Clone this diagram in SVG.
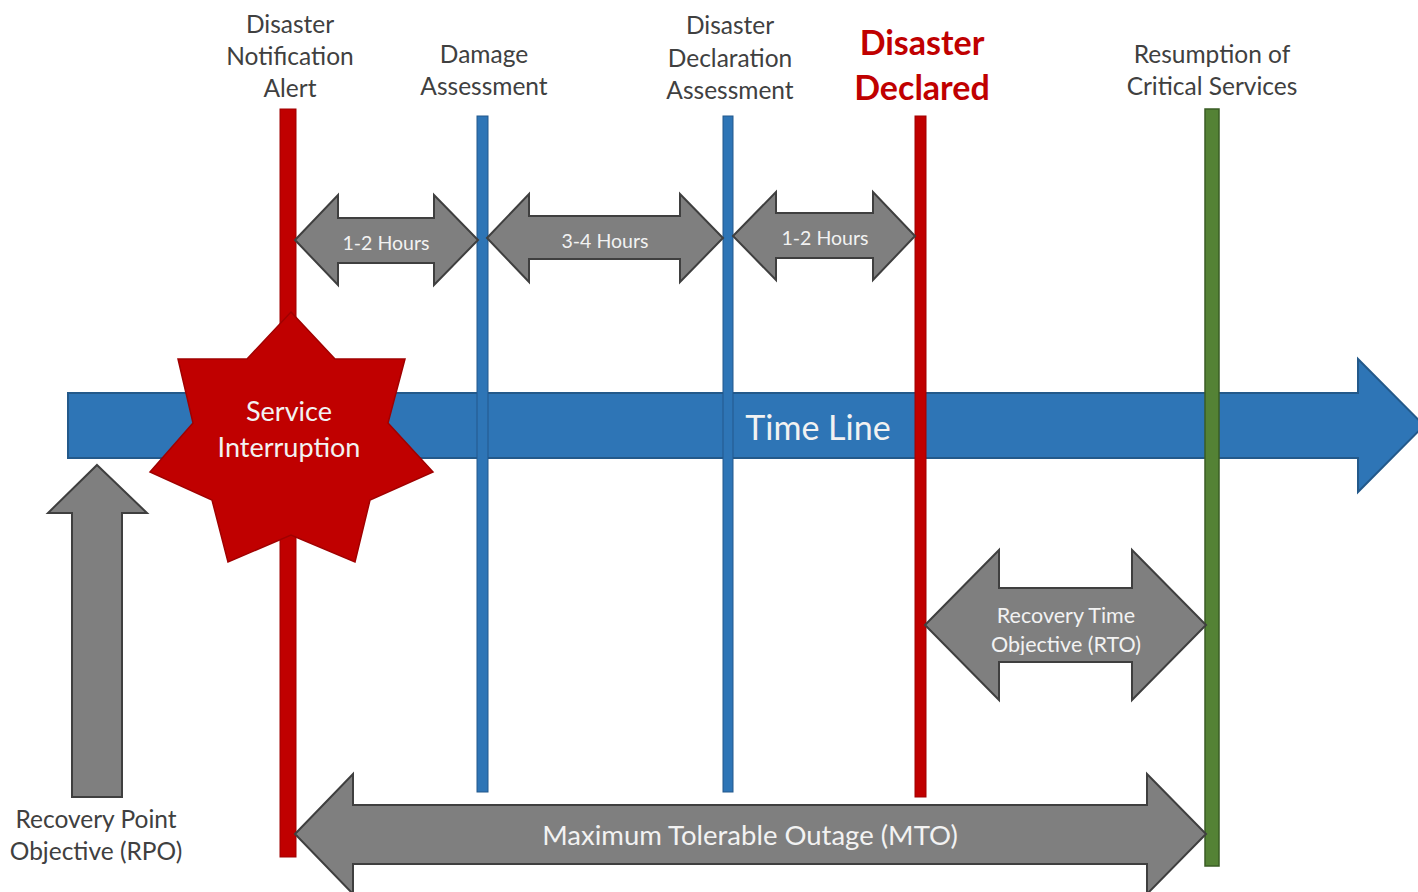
<svg xmlns="http://www.w3.org/2000/svg" width="1418" height="892" viewBox="0 0 1418 892">
  <style>
    .lbl { font-family: Lato, "Liberation Sans", sans-serif; font-size: 24.5px; fill: #404040; text-anchor: middle; }
    .big { font-family: Lato, "Liberation Sans", sans-serif; font-size: 34px; font-weight: bold; fill: #C00000; text-anchor: middle; }
    .in { font-family: Lato, "Liberation Sans", sans-serif; fill: #F2F2F2; text-anchor: middle; }
    .gray { fill: #7F7F7F; stroke: #3F3F3F; stroke-width: 2; stroke-linejoin: miter; }
    .red { fill: #C00000; stroke: #A00000; stroke-width: 1; }
    .blue { fill: #2E75B6; stroke: #22598C; stroke-width: 1; }
    .green { fill: #548235; stroke: #3A5C25; stroke-width: 1.5; }
  </style>
  <defs>
    <clipPath id="rtoClip"><rect x="925" y="540" width="281" height="115"/></clipPath>
  </defs>
  <rect width="1418" height="892" fill="#FFFFFF"/>

  <!-- time line arrow -->
  <g id="timeline">
    <path d="M68,393 H1358 V359 L1424,425.5 L1358,492 V458 H68 Z" fill="#2E75B6" stroke="#23598A" stroke-width="2"/>
    <text class="in" x="818" y="440" font-size="34">Time Line</text>
  </g>

  <!-- milestones -->
  <g id="notification-alert">
    <rect class="red" x="280" y="109" width="16" height="748"/>
    <text class="lbl" x="290" y="33">Disaster</text>
    <text class="lbl" x="290" y="65">Notification</text>
    <text class="lbl" x="290" y="97">Alert</text>
  </g>
  <g id="damage-assessment">
    <rect class="blue" x="477" y="116" width="11" height="676"/>
    <text class="lbl" x="484" y="63">Damage</text>
    <text class="lbl" x="484" y="95">Assessment</text>
  </g>
  <g id="declaration-assessment">
    <rect class="blue" x="723" y="116" width="10" height="676"/>
    <text class="lbl" x="730" y="34">Disaster</text>
    <text class="lbl" x="730" y="67">Declaration</text>
    <text class="lbl" x="730" y="99">Assessment</text>
  </g>
  <g id="disaster-declared">
    <rect class="red" x="915" y="116" width="11" height="681"/>
    <text class="big" x="922" y="55">Disaster</text>
    <text class="big" x="922" y="100">Declared</text>
  </g>
  <g id="resumption">
    <rect class="green" x="1205" y="109" width="14" height="757"/>
    <text class="lbl" x="1212" y="63">Resumption of</text>
    <text class="lbl" x="1212" y="95">Critical Services</text>
  </g>

  <!-- service interruption star -->
  <g id="service-interruption">
    <polygon points="291,312 335,359 405,359 388,423 433,472 370,500 355,562 291,535 228,562 212,500 150,472 193,423 178,359 247,359" fill="#C00000" stroke="#A00000" stroke-width="1.5"/>
    <text class="in" x="289" y="421" font-size="27">Service</text>
    <text class="in" x="289" y="457" font-size="27">Interruption</text>
  </g>

  <!-- recovery point objective -->
  <g id="rpo">
    <path class="gray" d="M97,465 L147,513 H122 V797 H72 V513 H48 Z"/>
    <text class="lbl" x="96" y="828">Recovery Point</text>
    <text class="lbl" x="96" y="860">Objective (RPO)</text>
  </g>

  <!-- interval arrows -->
  <g id="connectors">
    <g id="interval-1">
      <path class="gray" d="M295,240 L338,195 V218 H434 V195 L478,240 L434,285 V263 H338 V285 Z"/>
      <text class="in" x="386" y="250" font-size="19.5">1-2 Hours</text>
    </g>
    <g id="interval-2">
      <path class="gray" d="M487,238 L529,194 V216 H680 V194 L723,238 L680,282 V259 H529 V282 Z"/>
      <text class="in" x="605" y="248" font-size="19.5">3-4 Hours</text>
    </g>
    <g id="interval-3">
      <path class="gray" d="M733,236 L776,192 V213 H873 V192 L915,236 L873,280 V258 H776 V280 Z"/>
      <text class="in" x="825" y="245" font-size="19.5">1-2 Hours</text>
    </g>
    <g id="rto">
      <path class="gray" d="M925,625 L999,550 V588 H1132 V550 L1206,625 L1132,700 V662 H999 V700 Z"/>
      <g clip-path="url(#rtoClip)">
        <text class="in" x="1066" y="623" font-size="21.5">Recovery Time</text>
        <text class="in" x="1066" y="652" font-size="21.5">Objective (RTO)</text>
      </g>
    </g>
    <g id="mto">
      <path class="gray" d="M295,834 L353,774 V805 H1147 V774 L1206,834 L1147,894 V864 H353 V894 Z"/>
      <text class="in" x="750" y="845" font-size="27.5">Maximum Tolerable Outage (MTO)</text>
    </g>
  </g>
</svg>
